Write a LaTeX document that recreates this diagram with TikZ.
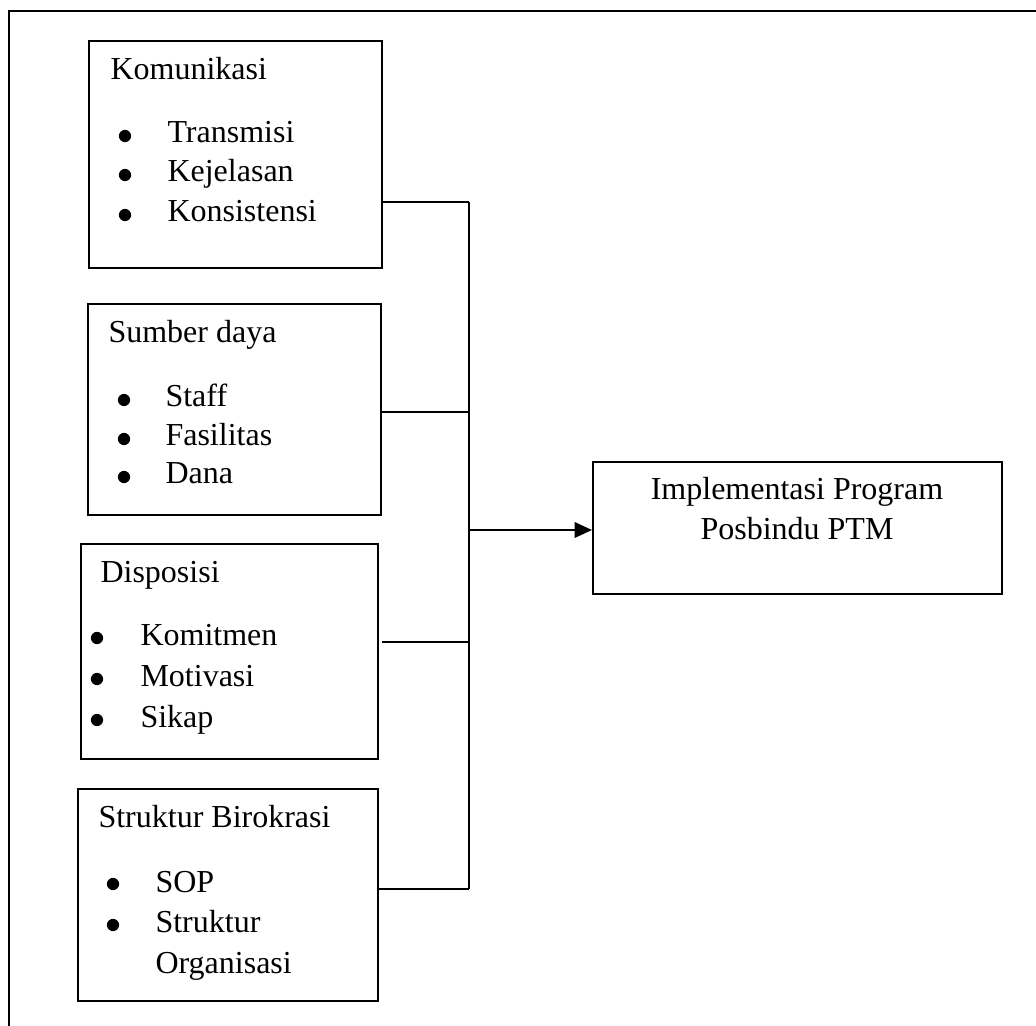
\documentclass[tikz,border=0pt]{standalone}
\usepackage{fontspec}
\setmainfont{Liberation Serif}
\usetikzlibrary{arrows.meta}

\tikzset{
    box/.style={draw, line width=0.9pt, anchor=north west, inner sep=0pt},
    txt/.style={anchor=base west, inner sep=0pt, font=\fontsize{12}{14}\selectfont},
    ctxt/.style={anchor=base, inner sep=0pt, font=\fontsize{12}{14}\selectfont},
    dot/.style={circle, fill, inner sep=0pt, minimum size=4.6pt},
    link/.style={line width=0.75pt},
}

\begin{document}
\begin{tikzpicture}[x=0.375pt, y=-0.375pt]
    \useasboundingbox (0,0) rectangle (1036,1026);

    % frame (only top and left are seen)
    \coordinate (frame) at (9,11);
    \draw[link] (1036,11) -- (frame) -- (9,1026);

    \node[box, minimum width=109.9pt, minimum height=85.1pt] (kom) at (88,40) {};
    \node[txt] (kom0) at (110,80) {Komunikasi};
    \node[dot] (kom1b) at (125,136) {};
    \node[txt] (kom1) at (167,143) {Transmisi};
    \node[dot] (kom2b) at (125,175) {};
    \node[txt] (kom2) at (167,182) {Kejelasan};
    \node[dot] (kom3b) at (125,215) {};
    \node[txt] (kom3) at (167,222) {Konsistensi};

    \node[box, minimum width=109.9pt, minimum height=79.1pt] (sd) at (87,303) {};
    \node[txt] (sd0) at (108,343) {Sumber daya};
    \node[dot] (sd1b) at (124,400) {};
    \node[txt] (sd1) at (165,407) {Staff};
    \node[dot] (sd2b) at (124,439) {};
    \node[txt] (sd2) at (165,446) {Fasilitas};
    \node[dot] (sd3b) at (124,477) {};
    \node[txt] (sd3) at (165,484) {Dana};

    \node[box, minimum width=111.4pt, minimum height=80.6pt] (disp) at (80,543) {};
    \node[txt] (disp0) at (100,583) {Disposisi};
    \node[dot] (disp1b) at (97,638) {};
    \node[txt] (disp1) at (140,646) {Komitmen};
    \node[dot] (disp2b) at (97,679) {};
    \node[txt] (disp2) at (140,687) {Motivasi};
    \node[dot] (disp3b) at (97,720) {};
    \node[txt] (disp3) at (140,728) {Sikap};

    \node[box, minimum width=112.5pt, minimum height=79.5pt] (sb) at (77,788) {};
    \node[txt] (sb0) at (98,828) {Struktur Birokrasi};
    \node[dot] (sb1b) at (113,884) {};
    \node[txt] (sb1) at (155,892) {SOP};
    \node[dot] (sb2b) at (113,925) {};
    \node[txt] (sb2) at (155,933) {Struktur};
    \node[txt] (sb3) at (155,973) {Organisasi};

    \node[box, minimum width=153.4pt, minimum height=49.5pt] (impl) at (592,461) {};
    \node[ctxt] (impl1) at (797,500) {Implementasi Program};
    \node[ctxt] (impl2) at (797,540) {Posbindu PTM};

    % bus line
    \coordinate (j1) at (469,202);
    \coordinate (j2) at (469,412);
    \coordinate (j3) at (469,642);
    \coordinate (j4) at (469,889);
    \coordinate (jout) at (469,530);

    \draw[link] (kom.east |- j1) -- (j1);
    \draw[link] (sd.east |- j2) -- (j2);
    \draw[link] ([xshift=0.8pt]disp.east |- j3) -- (j3);
    \draw[link] (sb.east |- j4) -- (j4);
    \draw[link] (j1) -- (j4);
    \draw[link, -{Triangle[length=6.5pt, width=5.8pt]}] (jout) -- (impl.west |- jout);

\end{tikzpicture}
\end{document}
